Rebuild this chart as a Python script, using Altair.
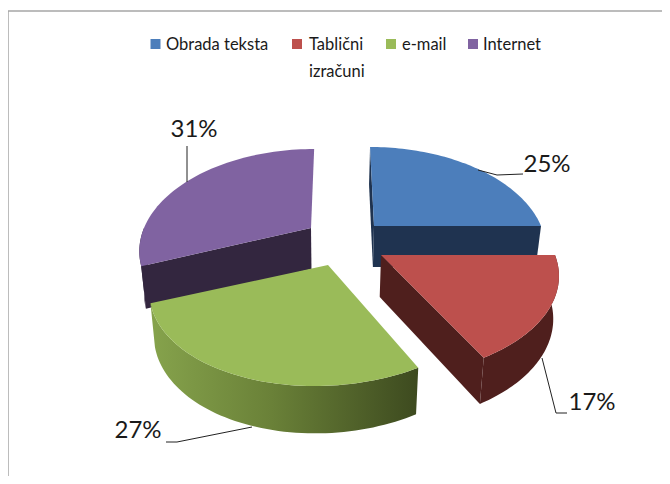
import math
import altair as alt

categories = ["Obrada teksta", "Tablični izračuni", "e-mail", "Internet"]
values = [25, 17, 27, 31]
top_colors = ["#4c7ebb", "#bd504d", "#9abb59", "#8063a1"]
wall_colors = ["#1f3350", "#4f1f1d", "#5f7433", "#33263f"]

# layout of the exploded, tilted pie (pixels on the page)
apex = {0: (374, 226), 1: (381, 255), 2: (328, 265), 3: (311, 228)}
rx = {0: 167, 1: 174, 2: 172, 3: 167}
shear = {0: 0.05, 1: 0.0, 2: -0.11, 3: -0.04}
K, B = 0.21, 95.6
W, H = 654, 468
OX, OY = 8, 8


def project(i, theta):
    u, v = math.sin(theta), -math.cos(theta)
    w = 1 - K * v
    dy = B * v / w
    dx = rx[i] * u / w + shear[i] * dy
    return apex[i][0] + dx, apex[i][1] + dy


def drop(p):
    x, y = p
    return x - 0.025 * (x - 330), y + 41 + 0.04 * (y - 227)


def feature(points):
    ring = [[x - OX, y - OY] for x, y in points]
    ring.append(ring[0])
    return {"type": "Feature", "properties": {},
            "geometry": {"type": "Polygon", "coordinates": [ring]}}


def poly(points, fill):
    return alt.Chart(alt.Data(values=[feature(points)])).mark_geoshape(
        fill=fill, strokeWidth=0).project(type="identity", scale=1, translate=[0, 0])


spans = {}
acc = 0.0
for i, v in enumerate(values):
    a0 = acc / sum(values) * 2 * math.pi
    acc += v
    spans[i] = (a0, acc / sum(values) * 2 * math.pi)


def rim(i, a, b, n=60):
    return [project(i, a + (b - a) * t / n) for t in range(n + 1)]


green_grad = alt.Gradient(
    gradient="linear", x1=0, x2=1, y1=0, y2=0,
    stops=[alt.GradientStop(color="#86a34c", offset=0),
           alt.GradientStop(color="#6a8138", offset=0.45),
           alt.GradientStop(color="#3d4a1f", offset=1)])

layers = []
# border
layers.append(alt.Chart(alt.Data(values=[{}])).mark_rule(color="#a6a6a6", strokeWidth=1.5).encode(
    x=alt.value(0), y=alt.value(3), x2=alt.value(W)))
layers.append(alt.Chart(alt.Data(values=[{}])).mark_rule(color="#a6a6a6", strokeWidth=1.5).encode(
    x=alt.value(0), y=alt.value(3), y2=alt.value(H)))

visible_walls = {0: ("a", "b"), 1: ("b",), 2: (), 3: ("a",)}
for i in [3, 0, 2, 1]:
    a, b = spans[i]
    fill = green_grad if i == 2 else wall_colors[i]
    # radial walls that the viewer can see
    for which in visible_walls[i]:
        e = project(i, a if which == "a" else b)
        layers.append(poly([apex[i], e, drop(e), drop(apex[i])], fill))
    # outer wall, only the part that faces the viewer
    lo, hi = max(a, math.pi / 2), min(b, 3 * math.pi / 2)
    if hi > lo:
        r = rim(i, lo, hi)
        layers.append(poly(r + [drop(p) for p in reversed(r)], fill))
    # top face
    layers.append(poly([apex[i]] + rim(i, a, b), top_colors[i]))

FONT = "Lato"
# leader lines
leaders = [
    [(478, 170), (497, 175), (523, 174)],
    [(542, 358), (556, 413), (567, 413)],
    [(252, 427), (177, 442), (166, 442)],
    [(187, 182), (187, 146)],
]
for line in leaders:
    rows = [{"x": x - OX, "y": y - OY, "o": k} for k, (x, y) in enumerate(line)]
    layers.append(alt.Chart(alt.Data(values=rows)).mark_line(color="#222222", strokeWidth=1).encode(
        x=alt.X("x:Q", scale=None), y=alt.Y("y:Q", scale=None), order="o:Q"))

# percentage labels
label_pos = [(547, 165), (592, 403), (138, 431), (194, 130)]
for v, (x, y) in zip(values, label_pos):
    layers.append(alt.Chart(alt.Data(values=[{"t": f"{v}%"}])).mark_text(
        font=FONT, fontSize=24, color="#1a1a1a", align="center", baseline="middle").encode(
        text="t:N", x=alt.value(x - OX), y=alt.value(y - OY)))

# legend
swatch_x = [155.5, 297, 391, 473]
text_x = [166, 309, 402, 483]
legend_lines = [["Obrada teksta"], ["Tablični", "izračuni"], ["e-mail"], ["Internet"]]
for i in range(4):
    layers.append(alt.Chart(alt.Data(values=[{"c": categories[i]}])).mark_square(
        size=100, color=top_colors[i], opacity=1).encode(
        x=alt.value(swatch_x[i] - OX), y=alt.value(44 - OY)))
    for k, t in enumerate(legend_lines[i]):
        layers.append(alt.Chart(alt.Data(values=[{"t": t}])).mark_text(
            font=FONT, fontSize=16.5, color="#1a1a1a", align="left", baseline="middle").encode(
            text="t:N", x=alt.value(text_x[i] - OX), y=alt.value(45 + 27 * k - OY)))

chart = alt.layer(*layers).properties(
    width=W, height=H, padding=0, autosize=alt.AutoSizeParams(type="none"), background="white",
).configure_view(stroke=None)

chart.save("out.html", embed_options={"renderer": "svg", "actions": False})
